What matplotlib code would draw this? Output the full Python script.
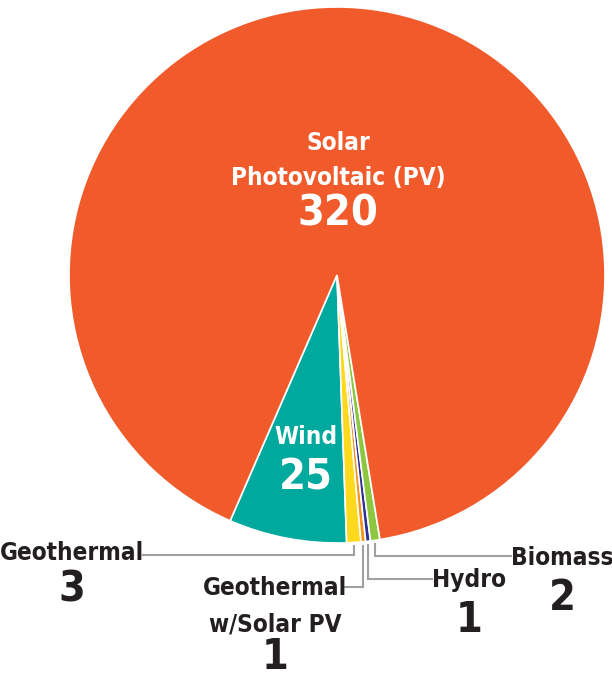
import numpy as np
import matplotlib.pyplot as plt

# Installed capacity by source (counter-clockwise from Wind)
sources = ["Wind", "Geothermal", "Geothermal\nw/Solar PV", "Hydro", "Biomass", "Solar\nPhotovoltaic (PV)"]
values = [25, 3, 1, 1, 2, 320]
colors = ["#00A99D", "#FFD91E", "#F7941D", "#2E3192", "#8DC63F", "#F15A2B"]

W, H = 612, 677
plt.rcParams["font.family"] = ["DejaVu Sans"]
plt.rcParams["font.stretch"] = "condensed"

fig = plt.figure(figsize=(W / 100, H / 100), dpi=100)
ax = fig.add_axes([0, 0, 1, 1])
ax.set_xlim(0, W)
ax.set_ylim(0, H)
ax.set_aspect("equal")
ax.axis("off")

cx, cy, r = 337, H - 275, 268
wedges, _ = ax.pie(values, colors=colors, startangle=246.5, counterclock=True,
                   center=(cx, cy), radius=r,
                   wedgeprops=dict(edgecolor="white", linewidth=1.2))
ax.set_xlim(0, W)
ax.set_ylim(0, H)


def py(y):
    return H - y


fs_lab, fs_num = 17.5, 31

# inner labels
inner = dict(color="white", fontweight="bold", ha="center", va="center", stretch="condensed")
ax.text(338, py(143), "Solar", fontsize=fs_lab, **inner)
ax.text(338, py(178), "Photovoltaic (PV)", fontsize=fs_lab, **inner)
ax.text(338, py(214), str(values[5]), fontsize=fs_num, **inner)
ax.text(306, py(437), "Wind", fontsize=fs_lab, **inner)
ax.text(306, py(477), str(values[0]), fontsize=fs_num, **inner)

# leader lines for the small slices: (wedge index, y of elbow, x end)
leaders = [(1, 555, 142), (2, 587, 343), (3, 579, 433), (4, 556, 512)]
for i, yl, xe in leaders:
    w = wedges[i]
    mid = np.deg2rad((w.theta1 + w.theta2) / 2)
    x0 = cx + r * np.cos(mid)
    y0 = cy + (r + 3) * np.sin(mid)
    ax.plot([x0, x0, xe], [y0, py(yl), py(yl)], color="#A0A0A0", lw=1.5,
            solid_capstyle="butt", solid_joinstyle="miter")

lab = dict(color="#231F20", fontweight="bold", ha="center", va="center", stretch="condensed")
ax.text(72, py(553), "Geothermal", fontsize=fs_lab, **lab)
ax.text(72, py(590), str(values[1]), fontsize=fs_num, **lab)
ax.text(275, py(588), "Geothermal", fontsize=fs_lab, **lab)
ax.text(275, py(624), "w/Solar PV", fontsize=fs_lab, **lab)
ax.text(275, py(657), str(values[2]), fontsize=fs_num, **lab)
ax.text(469, py(580), "Hydro", fontsize=fs_lab, **lab)
ax.text(469, py(620), str(values[3]), fontsize=fs_num, **lab)
ax.text(562, py(558), "Biomass", fontsize=fs_lab, **lab)
ax.text(562, py(598), str(values[4]), fontsize=fs_num, **lab)

fig.savefig("out.png", dpi=100)
